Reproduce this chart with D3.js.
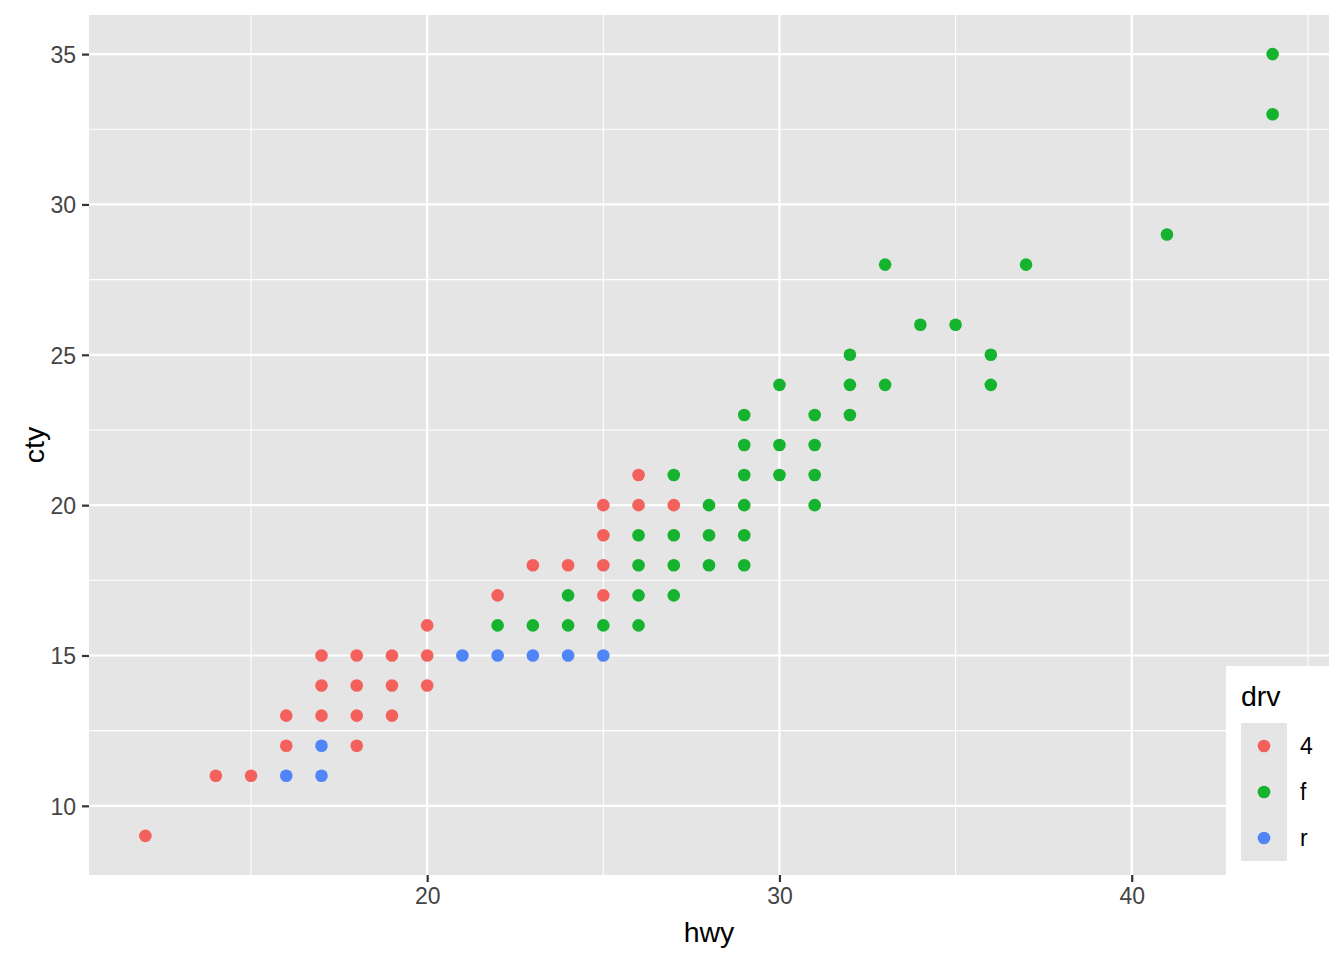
<!DOCTYPE html>
<html><head><meta charset="utf-8">
<script src="https://cdn.jsdelivr.net/npm/d3@7"></script>
<style>body{margin:0;background:#fff}svg{display:block}text{font-family:"Liberation Sans",Arial,Helvetica,sans-serif}</style>
</head><body>
<script>
// data: unique (hwy, cty) points per drive type
const drvLevels = ["4", "f", "r"];
const drvColors = ["#F4605B", "#16B32E", "#4F85F7"];
const hwy4 = [12,14,15,16,16,17,17,17,18,18,18,18,19,19,19,20,20,20,22,23,24,25,25,25,25,26,26,27];
const cty4 = [ 9,11,11,12,13,13,14,15,12,13,14,15,13,14,15,14,15,16,17,18,18,17,18,19,20,20,21,20];
const hwyF = [22,23,24,25,26,24,26,27,26,27,28,29,26,27,28,29,28,29,31,27,29,30,31,29,30,31,29,31,32,30,32,33,32,36,34,35,36,33,37,41,44,44];
const ctyF = [16,16,16,16,16,17,17,17,18,18,18,18,19,19,19,19,20,20,20,21,21,21,21,22,22,22,23,23,23,24,24,24,25,24,26,26,25,28,28,29,33,35];
const hwyR = [16,17,17,21,22,23,24,25];
const ctyR = [11,11,12,15,15,15,15,15];
const xTicks = [20, 30, 40];
const yTicks = [10, 15, 20, 25, 30, 35];
const xMinor = [15, 25, 35, 45];
const yMinor = [12.5, 17.5, 22.5, 27.5, 32.5];

const W = 1344, H = 960;
const L = 89, R = 1329, T = 15, B = 875;
const svg = d3.select("body").append("svg").attr("width", W).attr("height", H);

const x = d3.scaleLinear().domain([10.4, 45.6]).range([L, R]);
const y = d3.scaleLinear().domain([7.7, 36.3]).range([B, T]);
const color = d3.scaleOrdinal().domain(drvLevels).range(drvColors);

const panelBg = "#E5E5E5";
svg.append("rect").attr("x", L).attr("y", T).attr("width", R - L).attr("height", B - T).attr("fill", panelBg);

const g = svg.append("g");
g.selectAll(".xmin").data(xMinor).join("line")
  .attr("x1", d => x(d)).attr("x2", d => x(d)).attr("y1", T).attr("y2", B)
  .attr("stroke", "#fff").attr("stroke-width", 1.1);
g.selectAll(".ymin").data(yMinor).join("line")
  .attr("y1", d => y(d)).attr("y2", d => y(d)).attr("x1", L).attr("x2", R)
  .attr("stroke", "#fff").attr("stroke-width", 1.1);
g.selectAll(".xmaj").data(xTicks).join("line")
  .attr("x1", d => x(d)).attr("x2", d => x(d)).attr("y1", T).attr("y2", B)
  .attr("stroke", "#fff").attr("stroke-width", 2.2);
g.selectAll(".ymaj").data(yTicks).join("line")
  .attr("y1", d => y(d)).attr("y2", d => y(d)).attr("x1", L).attr("x2", R)
  .attr("stroke", "#fff").attr("stroke-width", 2.2);

const series = [
  {drv: "4", hwy: hwy4, cty: cty4},
  {drv: "f", hwy: hwyF, cty: ctyF},
  {drv: "r", hwy: hwyR, cty: ctyR}
];
series.forEach(s => {
  const pts = s.hwy.map((h, i) => ({h, c: s.cty[i]}));
  svg.append("g").selectAll("circle").data(pts).join("circle")
    .attr("cx", d => x(d.h)).attr("cy", d => y(d.c)).attr("r", 6.3)
    .attr("fill", color(s.drv));
});

// axes
const xAxis = d3.axisBottom(x).tickValues(xTicks).tickSize(7).tickPadding(5);
const gx = svg.append("g").attr("transform", `translate(0,${B})`).call(xAxis);
gx.select(".domain").remove();
gx.selectAll(".tick line").attr("stroke", "#333").attr("stroke-width", 2.2);
gx.selectAll(".tick text").attr("fill", "#444").style("font-size", "23px").attr("dy", "0.75em");

const yAxis = d3.axisLeft(y).tickValues(yTicks).tickSize(7).tickPadding(6);
const gy = svg.append("g").attr("transform", `translate(${L},0)`).call(yAxis);
gy.select(".domain").remove();
gy.selectAll(".tick line").attr("stroke", "#333").attr("stroke-width", 2.2);
gy.selectAll(".tick text").attr("fill", "#444").style("font-size", "23px").attr("dy", "0.36em");

svg.append("text").attr("x", (L + R) / 2).attr("y", 942).attr("text-anchor", "middle")
  .style("font-size", "28.5px").attr("fill", "#000").text("hwy");
svg.append("text").attr("transform", `translate(44,${(T + B) / 2}) rotate(-90)`).attr("text-anchor", "middle")
  .style("font-size", "28.5px").attr("fill", "#000").text("cty");

// legend
const lg = svg.append("g");
lg.append("rect").attr("x", 1226).attr("y", 666).attr("width", 103).attr("height", 209).attr("fill", "#fff");
lg.append("text").attr("x", 1241).attr("y", 706).style("font-size", "28.5px").attr("fill", "#000").text("drv");
lg.append("rect").attr("x", 1241).attr("y", 723).attr("width", 46).attr("height", 138).attr("fill", panelBg);
const ly = d3.scaleBand().domain(drvLevels).range([723, 861]);
lg.selectAll(".key").data(drvLevels).join("circle")
  .attr("cx", 1264).attr("cy", d => ly(d) + ly.bandwidth() / 2).attr("r", 6.3)
  .attr("fill", d => color(d));
lg.selectAll(".lab").data(drvLevels).join("text")
  .attr("x", 1300).attr("y", d => ly(d) + ly.bandwidth() / 2).attr("dy", "0.36em")
  .style("font-size", "23px").attr("fill", "#000").text(d => d);
</script>
</body></html>
